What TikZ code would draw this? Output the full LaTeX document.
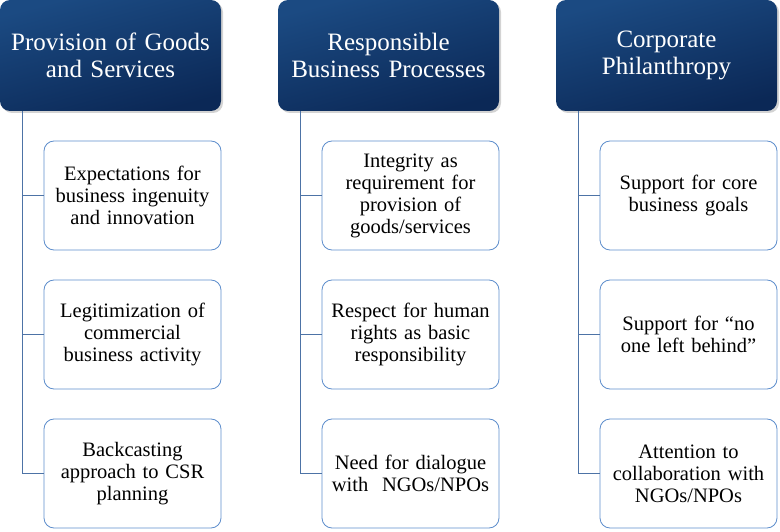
\documentclass[tikz,border=0pt]{standalone}
\usepackage{fontspec}
\setmainfont{Liberation Serif}
\usetikzlibrary{shadows,positioning}
\definecolor{hdtop}{HTML}{1B4A82}
\definecolor{hdbot}{HTML}{0B2856}
\definecolor{cborder}{HTML}{5E8ECC}
\definecolor{conn}{HTML}{4D73A6}
\tikzset{
  header/.style={rectangle, rounded corners=10pt, minimum width=221pt, minimum height=111pt,
    shading=axis, top color=hdtop, bottom color=hdbot, shading angle=15,
    drop shadow={shadow xshift=2pt, shadow yshift=-2pt, opacity=0.35},
    text=white, align=center, font=\fontsize{25}{27}\selectfont, inner sep=2pt, text width=217pt},
  child/.style={rectangle, rounded corners=10pt, minimum width=177pt, minimum height=109pt,
    draw=cborder, line width=0.8pt, fill=white, align=center, text width=172pt, inner sep=2pt,
    font=\fontsize{20.5}{22}\selectfont},
  link/.style={draw=conn, line width=1pt},
}
\begin{document}
\begin{tikzpicture}[x=1pt,y=-1pt]
\useasboundingbox (0,0) rectangle (780,532);
% column 1
\node[header] (h1) at (110.5,55.5) {Provision of Goods\\and Services};
\node[child] (a1) at (132.5,195.5) {Expectations for\\business ingenuity\\and innovation};
\node[child] (a2) at (132.5,334.5) {Legitimization of\\commercial\\business activity};
\node[child] (a3) at (132.5,473.5) {Backcasting\\approach to CSR\\planning};
% column 2
\node[header] (h2) at (388.5,55.5) {Responsible\\Business Processes};
\node[child] (b1) at (410.5,195.5) {Integrity as\\requirement for\\provision of\\goods/services};
\node[child] (b2) at (410.5,334.5) {Respect for human\\rights as basic\\responsibility};
\node[child] (b3) at (410.5,473.5) {Need for dialogue\\with\ \ NGOs/NPOs};
% column 3
\node[header] (h3) at (666.5,55.5) {Corporate\\Philanthropy};
\node[child] (c1) at (688.5,195.5) {Support for core\\business goals};
\node[child] (c2) at (688.5,334.5) {Support for ``no\\one left behind''};
\node[child] (c3) at (688.5,473.5) {Attention to\\collaboration with\\NGOs/NPOs};
% connectors
\foreach \h/\p in {h1/a, h2/b, h3/c}{
  \coordinate (\h top) at ([xshift=-88.5pt]\h.south);
  \draw[link] (\h top) |- (\p3.west);
  \draw[link] (\h top |- \p1.west) -- (\p1.west);
  \draw[link] (\h top |- \p2.west) -- (\p2.west);
}
\end{tikzpicture}
\end{document}
